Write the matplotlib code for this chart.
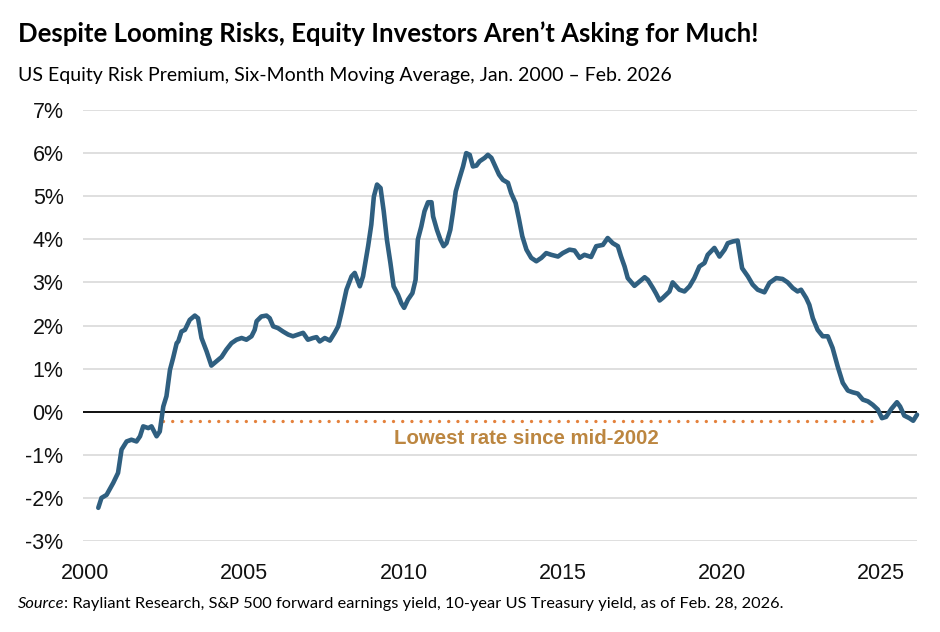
import matplotlib
matplotlib.use("Agg")
import matplotlib.pyplot as plt
from matplotlib.ticker import FuncFormatter

# ---------------- data ----------------
years = [2000.42, 2000.52, 2000.68, 2000.89, 2001.04, 2001.15, 2001.31, 2001.46, 2001.62, 2001.73,
         2001.83, 2001.99, 2002.09, 2002.25, 2002.35, 2002.46, 2002.56, 2002.67, 2002.77, 2002.88,
         2002.93, 2003.03, 2003.14, 2003.29, 2003.45, 2003.55, 2003.66, 2003.82, 2003.97, 2004.13,
         2004.29, 2004.44, 2004.60, 2004.76, 2004.92, 2005.07, 2005.23, 2005.33, 2005.39, 2005.54,
         2005.70, 2005.80, 2005.91, 2006.06, 2006.22, 2006.38, 2006.53, 2006.69, 2006.85, 2007.00,
         2007.16, 2007.27, 2007.37, 2007.53, 2007.69, 2007.84, 2007.95, 2008.05, 2008.21, 2008.37,
         2008.47, 2008.63, 2008.73, 2008.89, 2008.99, 2009.07, 2009.17, 2009.28, 2009.38, 2009.48,
         2009.59, 2009.69, 2009.83, 2009.93, 2010.02, 2010.14, 2010.28, 2010.38, 2010.45, 2010.56,
         2010.66, 2010.77, 2010.88, 2010.93, 2011.05, 2011.16, 2011.26, 2011.35, 2011.47, 2011.55,
         2011.64, 2011.76, 2011.87, 2011.97, 2012.08, 2012.18, 2012.29, 2012.39, 2012.55, 2012.65,
         2012.76, 2012.86, 2013.00, 2013.12, 2013.28, 2013.38, 2013.52, 2013.62, 2013.73, 2013.86,
         2014.01, 2014.17, 2014.33, 2014.48, 2014.64, 2014.85, 2015.00, 2015.21, 2015.37, 2015.53,
         2015.68, 2015.89, 2016.05, 2016.26, 2016.41, 2016.57, 2016.73, 2016.83, 2016.94, 2017.04,
         2017.25, 2017.41, 2017.57, 2017.67, 2017.83, 2017.93, 2018.04, 2018.14, 2018.35, 2018.45,
         2018.56, 2018.66, 2018.82, 2018.98, 2019.13, 2019.29, 2019.45, 2019.55, 2019.76, 2019.92,
         2020.08, 2020.18, 2020.34, 2020.49, 2020.63, 2020.81, 2020.96, 2021.12, 2021.33, 2021.49,
         2021.70, 2021.90, 2022.06, 2022.22, 2022.37, 2022.48, 2022.64, 2022.74, 2022.85, 2023.00,
         2023.16, 2023.32, 2023.47, 2023.63, 2023.79, 2023.95, 2024.10, 2024.26, 2024.42, 2024.58,
         2024.73, 2024.89, 2025.02, 2025.15, 2025.31, 2025.49, 2025.59, 2025.72, 2025.88, 2026.00,
         2026.12]
erp = [-2.23, -2.00, -1.93, -1.65, -1.42, -0.88, -0.69, -0.65, -0.69, -0.57,
       -0.34, -0.38, -0.34, -0.57, -0.46, 0.12, 0.36, 0.97, 1.25, 1.59,
       1.63, 1.86, 1.90, 2.13, 2.23, 2.17, 1.71, 1.40, 1.07, 1.17,
       1.27, 1.44, 1.59, 1.67, 1.71, 1.67, 1.75, 1.90, 2.10, 2.21,
       2.23, 2.17, 1.98, 1.94, 1.86, 1.79, 1.75, 1.79, 1.83, 1.67,
       1.71, 1.73, 1.63, 1.71, 1.65, 1.83, 1.98, 2.29, 2.83, 3.14,
       3.22, 2.91, 3.14, 3.84, 4.34, 4.99, 5.27, 5.19, 4.65, 3.99,
       3.45, 2.91, 2.71, 2.52, 2.41, 2.60, 2.75, 3.06, 3.99, 4.30,
       4.65, 4.86, 4.86, 4.53, 4.22, 3.99, 3.84, 3.91, 4.22, 4.61,
       5.11, 5.42, 5.69, 6.00, 5.96, 5.69, 5.71, 5.81, 5.89, 5.96,
       5.89, 5.73, 5.50, 5.38, 5.31, 5.07, 4.84, 4.49, 4.07, 3.76,
       3.57, 3.49, 3.57, 3.68, 3.64, 3.60, 3.68, 3.76, 3.74, 3.57,
       3.64, 3.59, 3.84, 3.87, 4.03, 3.91, 3.84, 3.60, 3.37, 3.10,
       2.92, 3.02, 3.12, 3.06, 2.87, 2.74, 2.58, 2.64, 2.79, 3.00,
       2.91, 2.83, 2.79, 2.91, 3.10, 3.37, 3.45, 3.64, 3.80, 3.60,
       3.76, 3.91, 3.95, 3.97, 3.33, 3.14, 2.95, 2.83, 2.77, 2.99,
       3.10, 3.08, 3.00, 2.87, 2.79, 2.83, 2.64, 2.48, 2.17, 1.90,
       1.75, 1.75, 1.48, 1.05, 0.67, 0.49, 0.45, 0.42, 0.28, 0.24,
       0.16, 0.05, -0.15, -0.12, 0.06, 0.22, 0.12, -0.09, -0.15, -0.21,
       -0.07]

floor_years = [2002.46, 2024.80]
floor_value = -0.22

y_ticks = [-3, -2, -1, 0, 1, 2, 3, 4, 5, 6, 7]
x_ticks = [2000, 2005, 2010, 2015, 2020, 2025]

title = "Despite Looming Risks, Equity Investors Aren\u2019t Asking for Much!"
subtitle = "US Equity Risk Premium, Six-Month Moving Average, Jan. 2000 \u2013 Feb. 2026"
note = "Lowest rate since mid-2002"
source_a = "Source"
source_b = ": Rayliant Research, S&P 500 forward earnings yield, 10-year US Treasury yield, as of Feb. 28, 2026."

# ---------------- figure ----------------
W, H = 940, 632
fig = plt.figure(figsize=(W / 100, H / 100), dpi=100)
ax = fig.add_axes([83 / W, 1 - 541 / H, (917 - 83) / W, (541 - 110) / H])
ax.set_xlim(1999.94, 2026.12)
ax.set_ylim(-3, 7)

ax.set_yticks(y_ticks)
ax.yaxis.set_major_formatter(FuncFormatter(lambda v, p: f"{int(round(v))}%"))
ax.set_xticks(x_ticks)
ax.grid(axis="y", color="#d9d9d9", lw=1.2)
ax.grid(axis="x", visible=False)
ax.set_axisbelow(True)
for s in ax.spines.values():
    s.set_visible(False)
ax.tick_params(axis="both", length=0, labelsize=15.5)
ax.tick_params(axis="y", pad=14)
ax.tick_params(axis="x", pad=16)
for lab in ax.get_xticklabels() + ax.get_yticklabels():
    lab.set_fontfamily("Liberation Sans")
    lab.set_color("#111111")

ax.axhline(0, color="black", lw=1.3, zorder=2)
ax.plot(floor_years, [floor_value, floor_value], color="#E4813C", lw=2.4,
        ls=(0, (0.01, 2.75)), dash_capstyle="round", zorder=3)
ax.plot(years, erp, color="#2F5F80", lw=3.3, solid_joinstyle="round",
        solid_capstyle="round", zorder=4, clip_on=False)

ax.text(2013.85, -0.63, note, ha="center", va="center", fontsize=14.7,
        fontweight="bold", color="#BC8640", family="Liberation Sans")

renderer = fig.canvas.get_renderer()


def fit(t, width_px):
    w = t.get_window_extent(renderer).width
    t.set_fontsize(t.get_fontsize() * width_px / w)


t1 = fig.text(18 / W, 1 - 34 / H, title, ha="left", va="center", fontsize=17,
              fontweight="bold", family="Lato", color="black")
fit(t1, 739)
t2 = fig.text(18 / W, 1 - 75 / H, subtitle, ha="left", va="center", fontsize=13,
              family="Lato", color="black")
fit(t2, 650)

s1 = fig.text(18 / W, 1 - 604 / H, source_a, ha="left", va="center", fontsize=11,
              family="Lato", style="italic", color="black")
s2 = fig.text(0, 1 - 604 / H, source_b, ha="left", va="center", fontsize=11,
              family="Lato", color="black")
# scale both parts to the full source width
wa = s1.get_window_extent(renderer).width
wb = s2.get_window_extent(renderer).width
k = 765 / (wa + wb)
s1.set_fontsize(11 * k)
s2.set_fontsize(11 * k)
wa = s1.get_window_extent(renderer).width
s2.set_x((18 + wa) / W)

fig.savefig("out.png", dpi=100, facecolor="white")
